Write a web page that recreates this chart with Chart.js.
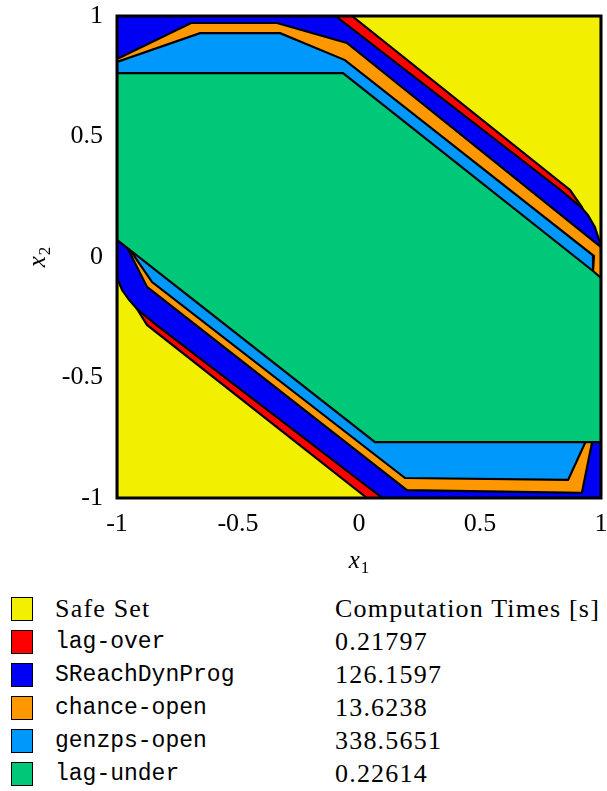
<!DOCTYPE html>
<html>
<head>
<meta charset="utf-8">
<script src="https://cdn.jsdelivr.net/npm/chart.js@4.4.1/dist/chart.umd.min.js"></script>
<style>
  html, body { margin: 0; padding: 0; background: #ffffff; }
  #wrap { position: relative; width: 607px; height: 791px; overflow: hidden; }
  #plot { position: absolute; left: 0; top: 0; }
  #legend { position: absolute; left: 0; top: 0; width: 607px; }
  .row { position: absolute; left: 0; height: 26px; width: 607px; }
  .swatch { position: absolute; left: 11px; top: 0; width: 20px; height: 22px; border: 1.5px solid #000; }
  .name { position: absolute; left: 55px; top: 0; line-height: 24px; color: #000; white-space: nowrap; }
  .mono { font-family: "Liberation Mono", "DejaVu Sans Mono", monospace; font-size: 23px; }
  .serif { font-family: "Liberation Serif", "DejaVu Serif", serif; font-size: 26px; letter-spacing: 1.2px; }
  .time { position: absolute; left: 335px; top: 0; line-height: 24px; font-size: 26px; letter-spacing: 1.2px; color: #000; white-space: nowrap; font-family: "Liberation Serif", "DejaVu Serif", serif; }
</style>
</head>
<body>
<div id="wrap">
  <canvas id="plot" width="607" height="590"></canvas>
  <div id="legend"></div>
</div>
<script>
// Axis ticks shared by both axes
const tickValues = [-1, -0.5, 0, 0.5, 1];

// Safe set: the whole square [-1,1] x [-1,1]
const safeSetX = [-1, 1, 1, -1];
const safeSetY = [-1, -1, 1, 1];

// lag-over (outer approximation)
const lagOverX = [-1, -0.029, 0.872, 0.921, 1, 1, 0.033, -0.876, -0.917, -1];
const lagOverY = [1, 1, 0.278, 0.207, 0.0, -1, -1, -0.282, -0.216, -0.021];

// SReachDynProg (dynamic programming level set)
const dynProgX = [-1, -0.097, 0.833, 0.921, 0.946, 0.975, 0.988, 1,
                  1, 0.097, -0.838, -0.917, -0.950, -0.979, -1];
const dynProgY = [1, 1, 0.278, 0.203, 0.174, 0.124, 0.083, 0.046,
                  -1, -1, -0.282, -0.216, -0.178, -0.137, -0.087];

// chance-open
const chanceOpenX = [-1, -0.694, -0.339, -0.050, 1, 1, 1, 0.921, 0.198, -0.876, -0.955, -1];
const chanceOpenY = [0.822, 0.971, 0.971, 0.888, 0.041, -0.083, -0.585, -0.979, -0.967, -0.124, 0.033, 0.112];

// genzps-open
const genzpsOpenX = [-1, -0.657, -0.326, -0.058, 0.971, 0.967, 1, 1, 0.934, 0.864, 0.190, -0.855, -0.946, -1];
const genzpsOpenY = [0.809, 0.929, 0.929, 0.817, 0.004, -0.058, -0.178, -0.622, -0.772, -0.925, -0.917, -0.104, 0.029, 0.071];

// lag-under (inner approximation)
const lagUnderX = [-1, -0.066, 0.967, 1, 1, 0.066, -1];
const lagUnderY = [0.763, 0.763, -0.058, -0.087, -0.768, -0.768, 0.071];

// Legend contents
const legendNames = ['Safe Set', 'lag-over', 'SReachDynProg', 'chance-open', 'genzps-open', 'lag-under'];
const legendTimes = ['Computation Times [s]', '0.21797', '126.1597', '13.6238', '338.5651', '0.22614'];
const setColors = ['#f2ef00', '#ff0000', '#0000f4', '#ff9800', '#0098fb', '#00c879'];

const polygons = [
  [safeSetX, safeSetY],
  [lagOverX, lagOverY],
  [dynProgX, dynProgY],
  [chanceOpenX, chanceOpenY],
  [genzpsOpenX, genzpsOpenY],
  [lagUnderX, lagUnderY]
];

// Closed outline: repeat the first vertex at the end
function closedPoints(xs, ys) {
  const pts = xs.map((x, i) => ({ x: x, y: ys[i] }));
  pts.push({ x: xs[0], y: ys[0] });
  return pts;
}

const n = polygons.length;
const datasets = polygons.map(([xs, ys], i) => ({
  label: legendNames[i],
  data: closedPoints(xs, ys),
  showLine: true,
  fill: 'shape',
  backgroundColor: setColors[i],
  borderColor: '#000000',
  borderWidth: 2.2,
  borderJoinStyle: 'miter',
  pointRadius: 0,
  pointHoverRadius: 0,
  tension: 0,
  // later sets are stacked on top of earlier ones
  order: n - 1 - i
}));

const SERIF = '"Liberation Serif", "DejaVu Serif", serif';

// Italic variable names with subscripts for the axis titles, plus the plot frame
const axisTitles = {
  id: 'axisTitles',
  afterDraw(chart) {
    const ctx = chart.ctx;
    const a = chart.chartArea;
    ctx.save();
    ctx.strokeStyle = '#000';
    ctx.lineWidth = 3;
    ctx.strokeRect(a.left, a.top, a.right - a.left, a.bottom - a.top);

    function sub(xc, yc, main, idx) {
      ctx.font = 'italic 25px ' + SERIF;
      const w1 = ctx.measureText(main).width;
      ctx.font = '17px ' + SERIF;
      const w2 = ctx.measureText(idx).width;
      const start = xc - (w1 + w2 + 1) / 2;
      ctx.textBaseline = 'alphabetic';
      ctx.fillStyle = '#000';
      ctx.font = 'italic 25px ' + SERIF;
      ctx.fillText(main, start, yc + 5);
      ctx.font = '17px ' + SERIF;
      ctx.fillText(idx, start + w1 + 1, yc + 10);
    }
    // x1 below the horizontal axis
    sub((a.left + a.right) / 2, 563, 'x', '1');
    // x2 rotated along the vertical axis
    ctx.translate(40, (a.top + a.bottom) / 2);
    ctx.rotate(-Math.PI / 2);
    sub(0, 0, 'x', '2');
    ctx.restore();
  }
};

const tickFont = { family: SERIF, size: 26 };

new Chart(document.getElementById('plot'), {
  type: 'scatter',
  data: { datasets: datasets },
  options: {
    responsive: false,
    animation: false,
    events: [],
    layout: { padding: { left: 0, top: 16, right: 6, bottom: 0 } },
    plugins: {
      legend: { display: false },
      tooltip: { enabled: false },
      filler: { propagate: false }
    },
    scales: {
      x: {
        type: 'linear',
        min: -1, max: 1,
        grid: { display: false, drawTicks: false },
        border: { display: false },
        afterBuildTicks: s => { s.ticks = tickValues.map(v => ({ value: v })); },
        afterFit: s => { s.height = 92; s.paddingLeft = 0; s.paddingRight = 0; },
        ticks: { font: tickFont, color: '#000', padding: 11, maxRotation: 0,
                 callback: v => String(v) }
      },
      y: {
        type: 'linear',
        min: -1, max: 1,
        grid: { display: false, drawTicks: false },
        border: { display: false },
        afterBuildTicks: s => { s.ticks = tickValues.map(v => ({ value: v })); },
        afterFit: s => { s.width = 117; s.paddingTop = 0; s.paddingBottom = 0; },
        ticks: { font: tickFont, color: '#000', padding: 14,
                 callback: v => String(v) }
      }
    }
  },
  plugins: [axisTitles]
});

// Legend with computation times
const legend = document.getElementById('legend');
legendNames.forEach((name, i) => {
  const row = document.createElement('div');
  row.className = 'row';
  row.style.top = (597 + i * 33) + 'px';
  const sw = document.createElement('div');
  sw.className = 'swatch';
  sw.style.background = setColors[i];
  const nm = document.createElement('div');
  nm.className = 'name ' + (i === 0 ? 'serif' : 'mono');
  nm.textContent = name;
  const tm = document.createElement('div');
  tm.className = 'time';
  tm.textContent = legendTimes[i];
  row.appendChild(sw);
  row.appendChild(nm);
  row.appendChild(tm);
  legend.appendChild(row);
});
</script>
</body>
</html>
